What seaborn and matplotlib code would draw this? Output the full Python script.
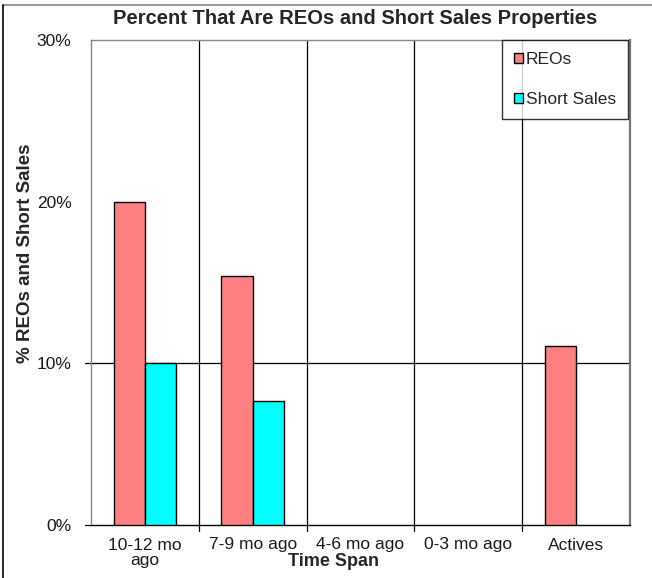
import pandas as pd
import numpy as np
import matplotlib.pyplot as plt
import matplotlib.patches as patches
import matplotlib.lines as mlines
import seaborn as sns

# data (percent)
categories = ["10-12 mo\nago", "7-9 mo ago", "4-6 mo ago", "0-3 mo ago", "Actives"]
reos = [20.0, 15.4, 0.0, 0.0, 11.1]
short_sales = [10.0, 7.7, 0.0, 0.0, 0.0]
series = ["REOs", "Short Sales"]
colors = {"REOs": "#FF8080", "Short Sales": "#00FFFF"}

df = pd.DataFrame({
    "Time Span": categories * 2,
    "value": reos + short_sales,
    "series": [series[0]] * len(categories) + [series[1]] * len(categories),
})

sns.set_style("white")
plt.rcParams['font.family'] = ['Liberation Sans', 'DejaVu Sans']

W, H = 652, 578
fig = plt.figure(figsize=(W/100, H/100), dpi=100)
ax = fig.add_axes([91/W, 1-525/H, (630-91)/W, (525-40)/H])

sns.barplot(data=df, x="Time Span", y="value", hue="series", palette=colors,
            saturation=1, width=0.58, edgecolor='black', linewidth=1, ax=ax, zorder=3)
# zero-height bars are not drawn in the reference
for p in ax.patches:
    if p.get_height() == 0:
        p.set_visible(False)

ax.set_ylim(0, 30)
ax.set_xlim(-0.5, 4.5)
ax.set_yticks([0, 10, 20, 30])
ax.set_yticklabels(["0%", "10%", "20%", "30%"], fontsize=12.5)
ax.tick_params(axis='x', labelsize=12.5, length=0, pad=9, colors='#1a1a1a')
ax.tick_params(axis='y', length=0, pad=14, colors='#1a1a1a')
for lab in ax.get_xticklabels():
    lab.set_linespacing(1.05)

# category separators
for xb in np.arange(0.5, 4.5, 1):
    ax.axvline(xb, color='black', linewidth=0.9, zorder=1)
    ax.plot([xb, xb], [0, -0.4], color='black', linewidth=0.9, clip_on=False)
ax.axhline(10, color='black', linewidth=0.9, zorder=1)
ax.plot([-0.56, -0.5], [10, 10], color='black', linewidth=0.9, clip_on=False)
ax.plot([-0.56, -0.5], [0, 0], color='black', linewidth=0.9, clip_on=False)

for side in ['left', 'top']:
    ax.spines[side].set_color('#888888')
    ax.spines[side].set_linewidth(1.0)
ax.spines['right'].set_color('#777777')
ax.spines['right'].set_linewidth(1.6)
ax.spines['bottom'].set_color('black')
ax.spines['bottom'].set_linewidth(1.0)

ax.set_xlabel("Time Span", fontsize=13, fontweight='bold')
ax.xaxis.set_label_coords((334-91)/539, -(562-525)/485, transform=ax.transAxes)
ax.xaxis.label.set_va('center')
ax.set_ylabel("% REOs and Short Sales", fontsize=13.5, fontweight='bold')
ax.yaxis.set_label_coords(-(91-34)/539, 0.56)
fig.text(355/W, 1-19/H, "Percent That Are REOs and Short Sales Properties",
         ha='center', va='center', fontsize=14.5, fontweight='bold')

handles = [patches.Patch(facecolor=colors[s], edgecolor='black', label=s) for s in series]
leg = ax.legend(handles=handles, loc='upper right', bbox_to_anchor=(1.0 - 2/539, 1.0),
                fontsize=12.5, frameon=True, fancybox=False, handlelength=0.5,
                handleheight=0.5, handletextpad=0.15, labelspacing=1.45,
                borderpad=0.7, borderaxespad=0.0)
leg.get_frame().set_edgecolor('black')
leg.get_frame().set_linewidth(1.0)

# outer frame: gray line on top, black line on the left
fig.lines.append(mlines.Line2D([3/W, 1], [1-5/H, 1-5/H], transform=fig.transFigure,
                               color='#999999', linewidth=1.5))
fig.lines.append(mlines.Line2D([3/W, 3/W], [0, 1-5/H], transform=fig.transFigure,
                               color='black', linewidth=1.2))

plt.savefig("out.png", dpi=100)
